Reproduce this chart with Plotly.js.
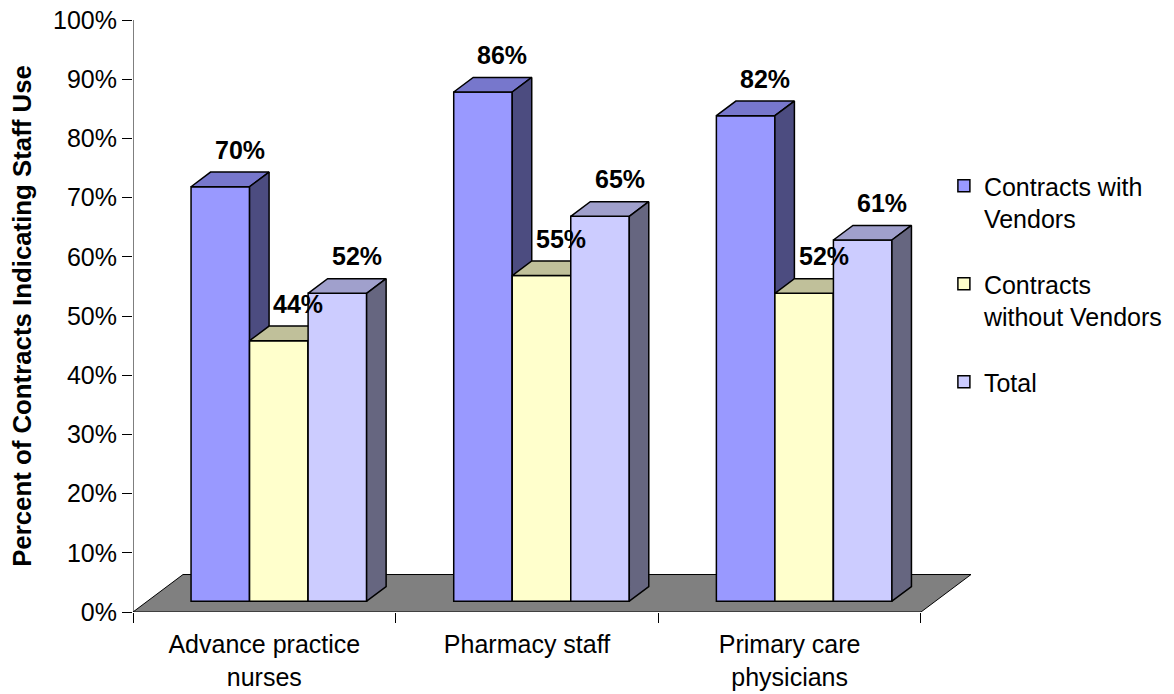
<!DOCTYPE html>
<html><head><meta charset="utf-8">
<script src="https://cdn.plot.ly/plotly-3.0.1.min.js"></script>
<style>html,body{margin:0;padding:0;background:#fff}#chart{width:1174px;height:694px}</style>
</head><body><div id="chart"></div>
<script>
// ---- data ----
const categories = ['Advance practice<br>nurses', 'Pharmacy staff', 'Primary care<br>physicians'];
const seriesNames = ['Contracts with<br>Vendors', 'Contracts<br>without Vendors', 'Total'];
const contractsWithVendors = [70, 86, 82];
const contractsWithoutVendors = [44, 55, 52];
const totalValues = [52, 65, 61];
const yTickValues = [0, 10, 20, 30, 40, 50, 60, 70, 80, 90, 100];
const yTickLabels = yTickValues.map(v => v + '%');

// ---- style ----
const series = [contractsWithVendors, contractsWithoutVendors, totalValues];
const frontColors = ['#9999FF', '#FFFFCC', '#CCCCFF'];
const topColors = ['#7777CC', '#C0C09A', '#A0A0CC'];
const sideColors = ['#4C4C80', '#808066', '#666680'];
const FONT = '"Liberation Sans", Arial, sans-serif';

// oblique 3-D projection expressed in axis units
const floorDX = 0.1904, floorDY = 6.33;
const frontFrac = 0.29, backFrac = 0.68;
const barW = 0.2228;
const groupHalf = 1.5 * barW;
const fx = frontFrac * floorDX, fy = frontFrac * floorDY;
const dX = (backFrac - frontFrac) * floorDX, dY = (backFrac - frontFrac) * floorDY;

const catPos = categories.map((_, i) => i);
const xmin = -0.5, xmax = categories.length - 0.5;
const boundaries = catPos.map(i => i - 0.5).concat([xmax]);

const traces = [];
// floor
traces.push({
  type: 'scatter', mode: 'lines', zorder: 0,
  x: [xmin, xmax, xmax + floorDX, xmin + floorDX, xmin],
  y: [0, 0, floorDY, floorDY, 0],
  fill: 'toself', fillcolor: '#808080', line: {color: '#000', width: 1},
  showlegend: false, hoverinfo: 'skip'
});

const annotations = [];
series.forEach((vals, j) => {
  const off = -groupHalf + j * barW + fx;
  traces.push({
    type: 'bar', name: seriesNames[j], legendgroup: 'g' + j, zorder: 2 * j + 1,
    x: catPos, y: vals, base: fy, width: barW, offset: off,
    marker: {color: frontColors[j], line: {color: '#000', width: 1.5}},
    hoverinfo: 'skip'
  });
  const tx = [], ty = [], sx = [], sy = [];
  vals.forEach((v, i) => {
    const xL = i + off, xR = xL + barW, yT = fy + v;
    tx.push(xL, xR, xR + dX, xL + dX, xL, null);
    ty.push(yT, yT, yT + dY, yT + dY, yT, null);
    sx.push(xR, xR, xR + dX, xR + dX, xR, null);
    sy.push(fy, yT, yT + dY, fy + dY, fy, null);
    annotations.push({
      x: xL + barW / 2 + dX, y: yT, xref: 'x', yref: 'y',
      text: v + '%', showarrow: false, yanchor: 'middle', yshift: 37,
      font: {family: FONT, size: 25, color: '#000', weight: 'bold'}
    });
  });
  traces.push({type: 'scatter', mode: 'lines', zorder: 2 * j + 2, x: tx, y: ty,
    fill: 'toself', fillcolor: topColors[j], line: {color: '#000', width: 1.5},
    showlegend: false, hoverinfo: 'skip'});
  traces.push({type: 'scatter', mode: 'lines', zorder: 2 * j + 2, x: sx, y: sy,
    fill: 'toself', fillcolor: sideColors[j], line: {color: '#000', width: 1.5},
    showlegend: false, hoverinfo: 'skip'});
});

const layout = {
  width: 1174, height: 694,
  margin: {l: 133, r: 203, t: 20, b: 82, autoexpand: false},
  paper_bgcolor: '#fff', plot_bgcolor: 'rgba(0,0,0,0)',
  font: {family: FONT, size: 25, color: '#000'},
  barmode: 'overlay',
  showlegend: true,
  legend: {
    xref: 'container', yref: 'container', x: 0.804, y: 0.765,
    xanchor: 'left', yanchor: 'top', traceorder: 'grouped', tracegroupgap: 30,
    valign: 'top', font: {family: FONT, size: 25, color: '#000'},
    bgcolor: 'rgba(0,0,0,0)'
  },
  xaxis: {
    type: 'linear', range: [xmin, xmax + floorDX], fixedrange: true,
    tickmode: 'array', tickvals: catPos, ticktext: categories, ticks: '',
    ticklabelstandoff: 15,
    showline: false, showgrid: false, zeroline: false,
    tickfont: {family: FONT, size: 25, color: '#000'},
    minor: {tickmode: 'array', tickvals: boundaries, ticks: 'outside', ticklen: 10,
            tickcolor: '#000', tickwidth: 1, showgrid: false}
  },
  yaxis: {
    range: [0, 100], fixedrange: true,
    tickmode: 'array', tickvals: yTickValues, ticktext: yTickLabels,
    ticks: 'outside', ticklen: 10, tickcolor: '#000', tickwidth: 1,
    showline: true, linecolor: '#000', linewidth: 1,
    showgrid: false, zeroline: false,
    tickfont: {family: FONT, size: 25, color: '#000'},
    title: {text: 'Percent of Contracts Indicating Staff Use', standoff: 14,
            font: {family: FONT, size: 25.8, color: '#000', weight: 'bold'}}
  },
  shapes: [{type: 'line', xref: 'x', yref: 'y', x0: xmin, x1: xmin,
            y0: yTickValues[0], y1: yTickValues[yTickValues.length - 1],
            line: {color: '#000', width: 1}, layer: 'above'}],
  annotations: annotations
};

Plotly.newPlot('chart', traces, layout, {displayModeBar: false, staticPlot: true});
</script>
</body></html>
